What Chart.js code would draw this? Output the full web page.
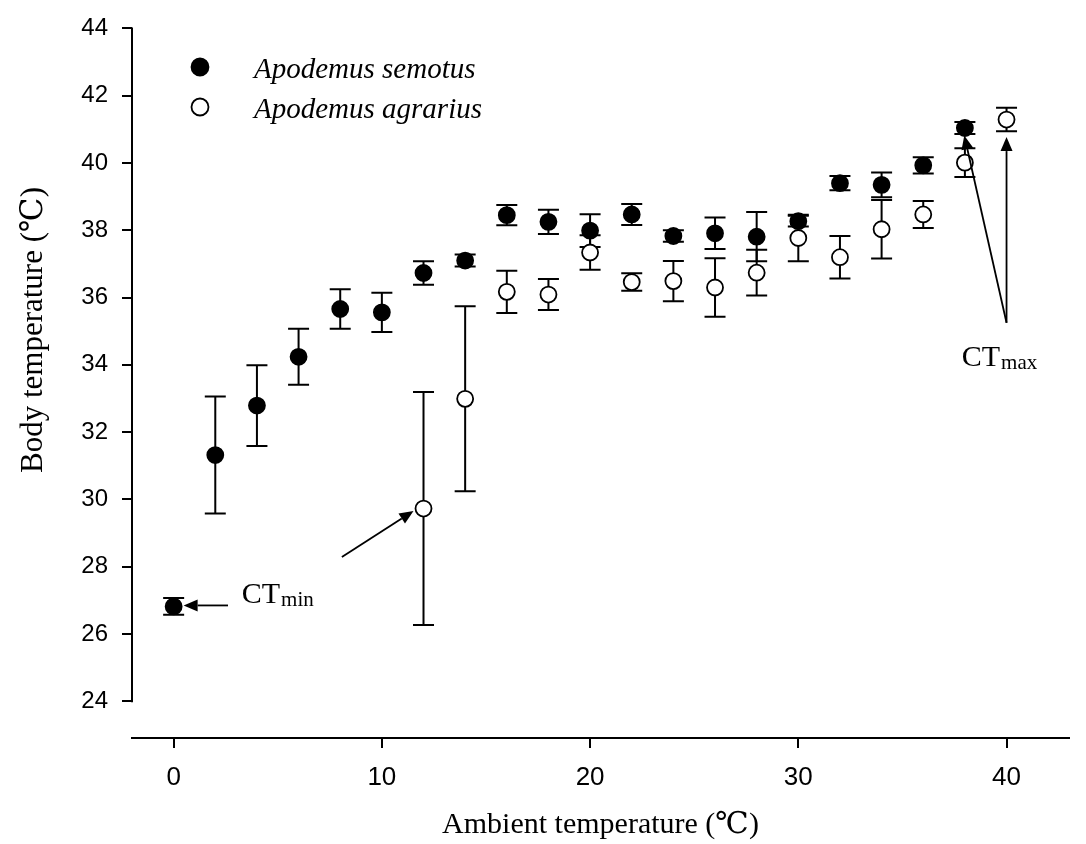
<!DOCTYPE html>
<html>
<head>
<meta charset="utf-8">
<script src="https://cdn.jsdelivr.net/npm/chart.js@4.4.1/dist/chart.umd.min.js"></script>
<style>
  html, body { margin: 0; padding: 0; background: #fff; }
  #wrap { width: 1086px; height: 844px; position: relative; }
</style>
</head>
<body>
<div id="wrap"><canvas id="tbChart"></canvas></div>
<script>
// Ambient temperature (x) and body temperature mean +/- SE for each species
const semotusTa = [0, 2, 4, 6, 8, 10, 12, 14, 16, 18, 20, 22, 24, 26, 28, 30, 32, 34, 36, 38];
const semotusTb = [26.82, 31.32, 32.79, 34.24, 35.66, 35.56, 36.73, 37.10, 38.45, 38.25, 37.99, 38.47, 37.83, 37.91, 37.81, 38.27, 39.40, 39.35, 39.93, 41.04];
const semotusSe = [0.25, 1.74, 1.20, 0.83, 0.59, 0.58, 0.35, 0.18, 0.30, 0.36, 0.49, 0.31, 0.17, 0.47, 0.73, 0.16, 0.21, 0.37, 0.24, 0.18];

const agrariusTa = [12, 14, 16, 18, 20, 22, 24, 26, 28, 30, 32, 34, 36, 38, 40];
const agrariusTb = [29.73, 32.99, 36.17, 36.09, 37.34, 36.46, 36.49, 36.30, 36.74, 37.77, 37.20, 38.03, 38.47, 40.01, 41.29];
const agrariusSe = [3.46, 2.75, 0.63, 0.46, 0.51, 0.26, 0.60, 0.87, 0.68, 0.69, 0.63, 0.87, 0.40, 0.43, 0.35];

const xTicks = [0, 10, 20, 30, 40];
const yTicks = [24, 26, 28, 30, 32, 34, 36, 38, 40, 42, 44];

// annotation arrows and labels, in data units
const arrows = [
    { from: [2.61, 26.85], to: [0.48, 26.85] },
    { from: [8.08, 28.29], to: [11.52, 29.66] },
    { from: [40, 35.25], to: [37.97, 40.82] },
    { from: [40, 35.25], to: [40, 40.77] }
];
const ctLabels = [
    { sub: 'min', at: [3.27, 26.91] },
    { sub: 'max', at: [37.85, 33.96] }
];

const seriesSe = [semotusSe, agrariusSe];
const serif = "'Liberation Serif', 'Times New Roman', 'DejaVu Serif', serif";
const sans = "'Liberation Sans', Arial, sans-serif";

function toPoints(xs, ys) {
    return xs.map((x, i) => ({ x: x, y: ys[i] }));
}

const errorBars = {
    id: 'errorBars',
    beforeDatasetsDraw(chart) {
        const ctx = chart.ctx;
        const xs = chart.scales.x, ys = chart.scales.y;
        ctx.save();
        ctx.strokeStyle = '#000';
        ctx.lineWidth = 2;
        chart.data.datasets.forEach((ds, di) => {
            ds.data.forEach((p, i) => {
                const se = seriesSe[di][i];
                const px = xs.getPixelForValue(p.x);
                const top = ys.getPixelForValue(p.y + se);
                const bot = ys.getPixelForValue(p.y - se);
                ctx.beginPath();
                ctx.moveTo(px, top); ctx.lineTo(px, bot);
                ctx.moveTo(px - 10.5, top); ctx.lineTo(px + 10.5, top);
                ctx.moveTo(px - 10.5, bot); ctx.lineTo(px + 10.5, bot);
                ctx.stroke();
            });
        });
        ctx.restore();
    }
};

const extras = {
    id: 'extras',
    afterDraw(chart) {
        const ctx = chart.ctx;
        const xs = chart.scales.x, ys = chart.scales.y;
        ctx.save();
        ctx.strokeStyle = '#000';
        ctx.fillStyle = '#000';

        // left axis line only spans the tick range
        ctx.lineWidth = 2;
        ctx.beginPath();
        ctx.moveTo(chart.chartArea.left, ys.getPixelForValue(yTicks[0]) + 1);
        ctx.lineTo(chart.chartArea.left, ys.getPixelForValue(yTicks[yTicks.length - 1]) - 1);
        ctx.stroke();

        // arrows
        ctx.lineWidth = 1.8;
        arrows.forEach(a => {
            const x1 = xs.getPixelForValue(a.from[0]), y1 = ys.getPixelForValue(a.from[1]);
            const x2 = xs.getPixelForValue(a.to[0]), y2 = ys.getPixelForValue(a.to[1]);
            const ang = Math.atan2(y2 - y1, x2 - x1);
            const len = 14, hw = 6;
            const bx = x2 - len * Math.cos(ang), by = y2 - len * Math.sin(ang);
            ctx.beginPath();
            ctx.moveTo(x1, y1); ctx.lineTo(bx, by);
            ctx.stroke();
            ctx.beginPath();
            ctx.moveTo(x2, y2);
            ctx.lineTo(bx + hw * Math.sin(ang), by - hw * Math.cos(ang));
            ctx.lineTo(bx - hw * Math.sin(ang), by + hw * Math.cos(ang));
            ctx.closePath();
            ctx.fill();
        });

        // CT labels
        ctx.textAlign = 'left';
        ctx.textBaseline = 'alphabetic';
        ctLabels.forEach(l => {
            const x = xs.getPixelForValue(l.at[0]), y = ys.getPixelForValue(l.at[1]);
            ctx.font = '30px ' + serif;
            ctx.fillText('CT', x, y);
            const w = ctx.measureText('CT').width;
            ctx.font = '21px ' + serif;
            ctx.fillText(l.sub, x + w + 1, y + 3);
        });

        // legend
        const legendRows = [
            { ds: chart.data.datasets[0], y: 67 },
            { ds: chart.data.datasets[1], y: 107 }
        ];
        legendRows.forEach(r => {
            ctx.beginPath();
            ctx.arc(200, r.y, 8.5, 0, Math.PI * 2);
            ctx.fillStyle = r.ds.backgroundColor;
            ctx.fill();
            ctx.lineWidth = 1.8;
            ctx.strokeStyle = '#000';
            ctx.stroke();
            ctx.fillStyle = '#000';
            ctx.font = 'italic 29px ' + serif;
            ctx.fillText(r.ds.label, 254, r.y + 11);
        });

        // axis titles
        ctx.font = '30px ' + serif;
        ctx.textAlign = 'center';
        ctx.fillText('Ambient temperature (\u2103)', (chart.chartArea.left + chart.chartArea.right) / 2, 833);
        ctx.translate(42, 473);
        ctx.rotate(-Math.PI / 2);
        ctx.textAlign = 'left';
        ctx.font = '31px ' + serif;
        ctx.fillText('Body temperature (\u2103)', 0, 0);
        ctx.restore();
    }
};

new Chart(document.getElementById('tbChart'), {
    type: 'scatter',
    data: {
        datasets: [
            {
                label: 'Apodemus semotus',
                data: toPoints(semotusTa, semotusTb),
                backgroundColor: '#000',
                borderColor: '#000',
                borderWidth: 1.8,
                pointRadius: 8,
                pointHoverRadius: 8
            },
            {
                label: 'Apodemus agrarius',
                data: toPoints(agrariusTa, agrariusTb),
                backgroundColor: '#fff',
                borderColor: '#000',
                borderWidth: 1.8,
                pointRadius: 8,
                pointHoverRadius: 8
            }
        ]
    },
    options: {
        responsive: true,
        maintainAspectRatio: false,
        animation: false,
        layout: { padding: { top: 20, right: 17, left: 0, bottom: 0 } },
        plugins: {
            legend: { display: false },
            tooltip: { enabled: false }
        },
        scales: {
            x: {
                type: 'linear',
                min: -2,
                max: 43,
                afterBuildTicks: (scale) => { scale.ticks = xTicks.map(v => ({ value: v })); },
                afterFit: (scale) => { scale.height = 106; },
                grid: { drawOnChartArea: false, drawTicks: true, tickLength: 10, color: '#000', lineWidth: 2 },
                border: { display: true, color: '#000', width: 2 },
                ticks: { color: '#000', padding: 14, font: { family: sans, size: 26 }, maxRotation: 0 }
            },
            y: {
                type: 'linear',
                min: 22.91,
                max: 44,
                afterBuildTicks: (scale) => { scale.ticks = yTicks.map(v => ({ value: v })); },
                afterFit: (scale) => { scale.width = 132; },
                grid: { drawOnChartArea: false, drawTicks: true, tickLength: 10, color: '#000', lineWidth: 2 },
                border: { display: false },
                ticks: { color: '#000', padding: 14, font: { family: sans, size: 24 } }
            }
        }
    },
    plugins: [errorBars, extras]
});
</script>
</body>
</html>
